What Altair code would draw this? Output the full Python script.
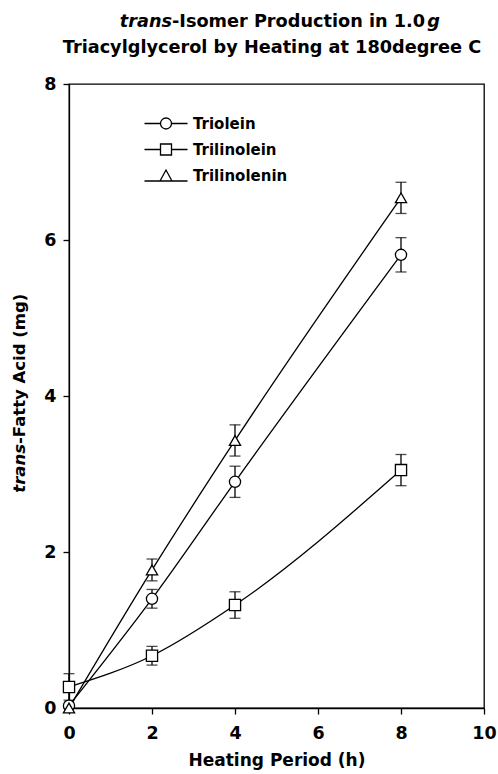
import altair as alt
import pandas as pd

# ---- data ----
hours = [0, 2, 4, 8]
series_names = ["Triolein", "Trilinolein", "Trilinolenin"]
triolein = [0.03, 1.40, 2.90, 5.81]
triolein_err = [0.0, 0.12, 0.20, 0.22]
trilinolein = [0.27, 0.67, 1.32, 3.05]
trilinolein_err = [0.17, 0.12, 0.17, 0.20]
trilinolenin = [0.0, 1.77, 3.43, 6.54]
trilinolenin_err = [0.0, 0.14, 0.20, 0.20]
x_ticks = [0, 2, 4, 6, 8, 10]
y_ticks = [0, 2, 4, 6, 8]

rows = []
for name, vals, errs in zip(series_names,
                            [triolein, trilinolein, trilinolenin],
                            [triolein_err, trilinolein_err, trilinolenin_err]):
    for h, v, e in zip(hours, vals, errs):
        rows.append({"series": name, "hours": h, "value": v,
                     "lo": v - e, "hi": v + e, "err": e})
df = pd.DataFrame(rows)

FONT = "DejaVu Sans"
W, H = 415, 624
LW = 1.3

xs = alt.Scale(domain=[0, 10], nice=False)
ys = alt.Scale(domain=[0, 8], nice=False)

x_enc = alt.X("hours:Q", scale=xs,
              axis=alt.Axis(values=x_ticks, title="Heating Period (h)",
                            labelPadding=10, titlePadding=11, format="d",
                            labelFlush=False))
y_enc = alt.Y("value:Q", scale=ys,
              axis=alt.Axis(values=y_ticks, title=None, labelPadding=7, format="d",
                            labelFlush=False))

base = alt.Chart(df)

lines = base.mark_line(color="black", strokeWidth=LW, interpolate="monotone").encode(
    x=x_enc, y=y_enc, detail="series:N")

errs = base.transform_filter("datum.err > 0").mark_errorbar(
    ticks=True, size=11, thickness=LW, color="black").encode(
    x=alt.X("hours:Q", scale=xs),
    y=alt.Y("lo:Q", scale=ys, title=None),
    y2="hi:Q")

points = base.mark_point(filled=True, fill="white", stroke="black",
                         strokeWidth=LW, size=125, opacity=1).encode(
    x=alt.X("hours:Q", scale=xs),
    y=alt.Y("value:Q", scale=ys, title=None),
    shape=alt.Shape("series:N",
                    scale=alt.Scale(domain=series_names,
                                    range=["circle", "square", "triangle-up"]),
                    legend=None))

# legend symbols: a short line with the marker in the middle
P_CIRC = "M-4.3,0H-1.1M1.1,0H4.3M-1.1,0A1.1,1.1,0,1,0,1.1,0A1.1,1.1,0,1,0,-1.1,0Z"
P_SQ = "M-4.3,0H-1.1M1.1,0H4.3M-1.1,-1.1H1.1V1.1H-1.1Z"
P_TRI = "M-4.3,1.1H-1.2M1.2,1.1H4.3M-1.2,1.1L0,-1.1L1.2,1.1Z"

legend = alt.Legend(
    title=None, orient="none", legendX=89.5, legendY=32, padding=0,
    labelFont=FONT, labelFontSize=15, labelFontWeight="bold", labelColor="black",
    symbolSize=100, symbolStrokeWidth=LW, symbolStrokeColor="black",
    symbolOpacity=1, symbolOffset=0, labelOffset=19.5, rowPadding=9)

legend_layer = base.transform_filter("false").mark_point(
    filled=False, color="black", strokeWidth=LW, opacity=1).encode(
    x=alt.X("hours:Q", scale=xs),
    y=alt.Y("value:Q", scale=ys, title=None),
    shape=alt.Shape("series:N",
                    scale=alt.Scale(domain=series_names, range=[P_CIRC, P_SQ, P_TRI]),
                    legend=legend))


def txt(s, x, y, size, italic=False, align="left", angle=0, baseline="alphabetic"):
    kw = dict(text=s, font=FONT, fontSize=size, fontWeight="bold",
              align=align, baseline=baseline, color="black")
    if italic:
        kw["fontStyle"] = "italic"
    if angle:
        kw["angle"] = angle
    return alt.Chart(pd.DataFrame({"k": [0]})).mark_text(**kw).encode(
        x=alt.value(x), y=alt.value(y))


TFS = 17.7
junction = 103
mid_w = 14.307 * TFS
title_parts = [
    txt("trans", junction, -57.3, TFS, italic=True, align="right"),
    txt("-Isomer Production in 1.0", junction, -57.3, TFS, align="left"),
    txt("g", junction + mid_w + 2, -57.3, TFS, italic=True, align="left"),
    txt("Triacylglycerol by Heating at 180degree C", 203, -30.7, TFS, align="center"),
]

YFS = 16.5
yj = 360
ytitle = [
    txt("trans", -44, yj, YFS, italic=True, align="right", angle=270),
    txt("-Fatty Acid (mg)", -44, yj, YFS, align="left", angle=270),
]

chart = alt.layer(lines, errs, points, legend_layer, *title_parts, *ytitle).resolve_scale(
    shape="independent"
).properties(
    width=W, height=H,
    autosize=alt.AutoSizeParams(type="none"),
    padding={"left": 69, "top": 84, "right": 14, "bottom": 66},
).configure_view(
    stroke="black", strokeWidth=LW
).configure_axis(
    grid=False, domainColor="black", domainWidth=LW, tickColor="black",
    tickWidth=LW, tickSize=6, labelFont=FONT, labelFontSize=17.5,
    labelFontWeight="bold", labelColor="black", titleFont=FONT,
    titleFontSize=17, titleFontWeight="bold", titleColor="black"
)

chart.save("out.html", embed_options={"renderer": "svg", "actions": False})
